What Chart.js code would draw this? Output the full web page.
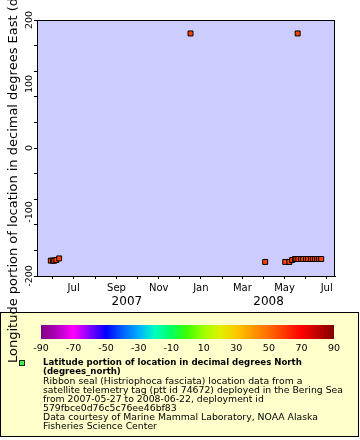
<!DOCTYPE html>
<html>
<head>
<meta charset="utf-8">
<script src="https://cdn.jsdelivr.net/npm/chart.js@4.4.0/dist/chart.umd.min.js"></script>
<style>
  html, body { margin: 0; padding: 0; background: #fff; }
</style>
</head>
<body>
<canvas id="chart" width="360" height="440"></canvas>
<script>
const FONT = '"DejaVu Sans", sans-serif';

// track fixes (date, longitude in degrees east)
const fixDates = [
  '2007-05-29', '2007-06-01', '2007-06-03', '2007-06-06', '2007-06-10',
  '2007-12-17',
  '2008-04-03', '2008-05-02', '2008-05-08', '2008-05-12', '2008-05-16',
  '2008-05-18', '2008-05-20', '2008-05-21', '2008-05-25', '2008-05-28',
  '2008-06-01', '2008-06-04', '2008-06-08', '2008-06-11', '2008-06-14',
  '2008-06-17', '2008-06-20', '2008-06-23'
];
const lonValues = [
  -176, -176, -176, -175, -172.5,
  179,
  -178, -178, -178, -175, -173.5,
  -173.5, 179, -173.5, -173.5, -173.5,
  -173.5, -173.5, -173.5, -173.5, -173.5,
  -173.5, -173.5, -173.5
];

const xMin = '2007-05-09';
const xMax = '2008-07-13';
const monthTicks = [
  '2007-06-01', '2007-07-01', '2007-08-01', '2007-09-01', '2007-10-01', '2007-11-01',
  '2007-12-01', '2008-01-01', '2008-02-01', '2008-03-01', '2008-04-01', '2008-05-01',
  '2008-06-01', '2008-07-01'
];
const monthNames = ['Jan', 'Feb', 'Mar', 'Apr', 'May', 'Jun', 'Jul', 'Aug', 'Sep', 'Oct', 'Nov', 'Dec'];
const yearLabels = ['2007', '2008'];
const yearCenters = ['2007-09-16', '2008-04-08'];

const lonLabels = [-200, -100, 0, 100, 200];
const latLabels = [-90, -70, -50, -30, -10, 10, 30, 50, 70, 90];

const yTitle = 'Longitude portion of location in decimal degrees East (degrees_east)';
const legendBold = ['Latitude portion of location in decimal degrees North', '(degrees_north)'];
const legendText = [
  'Ribbon seal (Histriophoca fasciata) location data from a',
  'satellite telemetry tag (ptt id 74672) deployed in the Bering Sea',
  'from 2007-05-27 to 2008-06-22, deployment id',
  '579fbce0d76c5c76ee46bf83',
  'Data courtesy of Marine Mammal Laboratory, NOAA Alaska',
  'Fisheries Science Center'
];

// rainbow palette for the colour bar, -90 .. 90
const palette = ['#800080', '#b000c0', '#ff00ff', '#8000ff', '#0000ff', '#0060ff', '#00b0ff',
  '#00ffc0', '#00ff60', '#40ff00', '#a0ff00', '#e0f000', '#ffc800', '#ff9900', '#ff6a00',
  '#ff3500', '#ff0000', '#c00000', '#800000'];

const dayOf = s => Date.parse(s) / 86400000;

const plotBg = {
  id: 'plotBg',
  beforeDraw(chart) {
    const { ctx, chartArea: a } = chart;
    ctx.save();
    ctx.fillStyle = '#ccccff';
    ctx.fillRect(a.left, a.top, a.right - a.left, a.bottom - a.top);
    ctx.restore();
  }
};

const decor = {
  id: 'decor',
  afterDraw(chart) {
    const { ctx, chartArea: a } = chart;
    const xs = chart.scales.x, ys = chart.scales.y;
    ctx.save();

    // frame
    ctx.strokeStyle = '#000';
    ctx.lineWidth = 1;
    ctx.strokeRect(Math.round(a.left) + 0.5, Math.round(a.top) + 0.5,
      Math.round(a.right - a.left) - 1, Math.round(a.bottom - a.top));

    // rotated y tick labels
    ctx.fillStyle = '#000';
    ctx.font = '9.5px ' + FONT;
    ctx.textAlign = 'center';
    ctx.textBaseline = 'middle';
    lonLabels.forEach(v => {
      ctx.save();
      ctx.translate(30, ys.getPixelForValue(v));
      ctx.rotate(-Math.PI / 2);
      ctx.fillText(String(v), 0, 0);
      ctx.restore();
    });

    // year labels
    ctx.font = '12px ' + FONT;
    yearLabels.forEach((t, i) => {
      ctx.fillText(t, xs.getPixelForValue(dayOf(yearCenters[i])), 302);
    });

    // legend box
    ctx.fillStyle = '#ffffcc';
    ctx.fillRect(0.5, 312.5, 358, 124);
    ctx.strokeRect(0.5, 312.5, 358, 124);

    // colour bar
    const bx0 = 41, bx1 = 334;
    const grad = ctx.createLinearGradient(bx0, 0, bx1, 0);
    palette.forEach((c, i) => grad.addColorStop(i / (palette.length - 1), c));
    ctx.fillStyle = grad;
    ctx.fillRect(bx0, 325, bx1 - bx0, 14);
    ctx.fillStyle = '#000';
    ctx.font = '9.5px ' + FONT;
    latLabels.forEach(v => {
      ctx.fillText(String(v), bx0 + (v + 90) / 180 * (bx1 - bx0), 349);
    });

    // legend entry
    ctx.fillStyle = '#44ee44';
    ctx.fillRect(19.5, 360.5, 5, 5);
    ctx.strokeStyle = '#222';
    ctx.strokeRect(19.5, 360.5, 5, 5);
    ctx.fillStyle = '#000';
    ctx.textAlign = 'left';
    let ly = 363;
    ctx.font = 'bold 8.6px ' + FONT;
    legendBold.forEach(t => { ctx.fillText(t, 43, ly); ly += 9.05; });
    ctx.font = '9.3px ' + FONT;
    legendText.forEach(t => { ctx.fillText(t, 43, ly); ly += 9.05; });

    // y axis title, drawn last so it sits over the legend box
    ctx.save();
    ctx.translate(17, 363);
    ctx.rotate(-Math.PI / 2);
    ctx.font = '13px ' + FONT;
    ctx.textAlign = 'left';
    ctx.textBaseline = 'alphabetic';
    ctx.fillText(yTitle, 0, 0);
    ctx.restore();

    ctx.restore();
  }
};

new Chart(document.getElementById('chart'), {
  type: 'scatter',
  data: {
    datasets: [{
      data: fixDates.map((d, i) => ({ x: dayOf(d), y: lonValues[i] })),
      pointStyle: 'rect',
      pointRadius: 3.5,
      backgroundColor: '#ff4000',
      borderColor: '#000',
      borderWidth: 1
    }]
  },
  options: {
    responsive: false,
    animation: false,
    devicePixelRatio: 1,
    layout: { padding: { top: 20, right: 25, left: 0, bottom: 124 } },
    plugins: { legend: { display: false }, tooltip: { enabled: false } },
    scales: {
      x: {
        type: 'linear',
        min: dayOf(xMin),
        max: dayOf(xMax),
        afterBuildTicks: s => { s.ticks = monthTicks.map(d => ({ value: dayOf(d) })); },
        afterFit: s => { s.height = 40; },
        ticks: {
          autoSkip: false, maxRotation: 0, minRotation: 0, padding: 3,
          color: '#000', font: { family: FONT, size: 10 },
          callback: v => {
            const m = new Date(v * 86400000).getUTCMonth();
            return m % 2 === 0 ? monthNames[m] : '';
          }
        },
        grid: { drawOnChartArea: false, color: '#000', tickLength: 3 },
        border: { color: '#000', width: 1 }
      },
      y: {
        min: -200,
        max: 200,
        afterBuildTicks: s => {
          const t = [];
          for (let v = -200; v <= 200; v += 20) t.push({ value: v });
          s.ticks = t;
        },
        afterFit: s => { s.width = 37; },
        ticks: { callback: () => '', padding: 0 },
        grid: { drawOnChartArea: false, color: '#000', tickLength: 3 },
        border: { color: '#000', width: 1 }
      }
    }
  },
  plugins: [plotBg, decor]
});
</script>
</body>
</html>
